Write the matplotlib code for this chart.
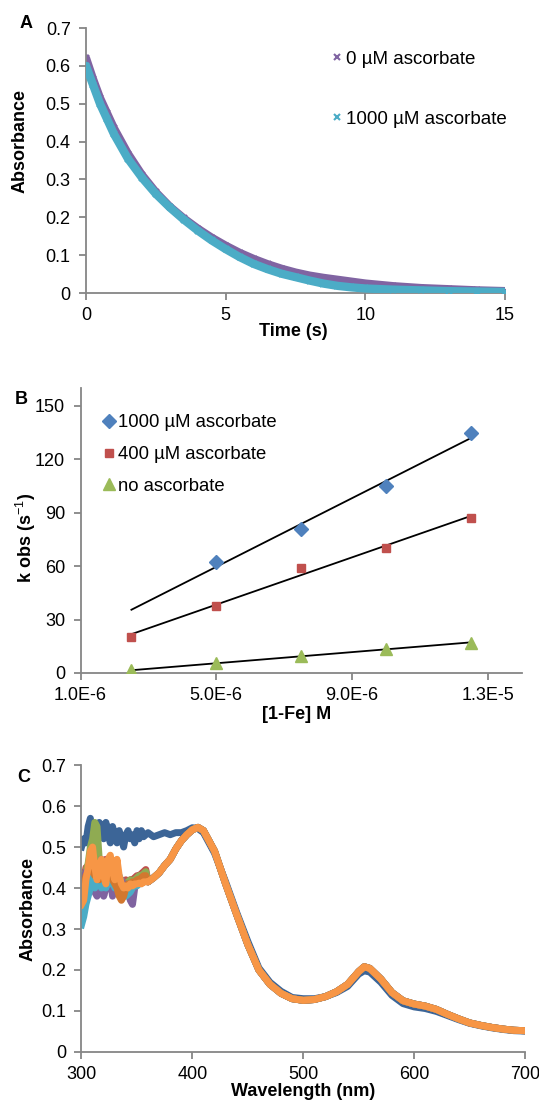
import numpy as np
import matplotlib
matplotlib.use("Agg")
import matplotlib.pyplot as plt

plt.rcParams['font.family'] = ['Liberation Sans', 'DejaVu Sans']
plt.rcParams['mathtext.fontset'] = 'custom'
plt.rcParams['mathtext.rm'] = 'Liberation Sans'
plt.rcParams['mathtext.bf'] = 'Liberation Sans:bold'

# ---- panel A: decay traces
time_s = [0, 0.25, 0.5, 0.75, 1, 1.5, 2, 2.5, 3, 3.5, 4, 4.5, 5, 5.5, 6, 6.5, 7,
          7.5, 8, 8.5, 9, 9.5, 10, 11, 12, 13, 14, 15]
abs_0uM = [0.62, 0.565, 0.515, 0.475, 0.435, 0.368, 0.312, 0.266, 0.228, 0.197,
           0.170, 0.146, 0.125, 0.106, 0.090, 0.076, 0.064, 0.054, 0.046, 0.040,
           0.035, 0.030, 0.025, 0.018, 0.013, 0.010, 0.007, 0.005]
abs_1000uM = [0.60, 0.55, 0.50, 0.46, 0.42, 0.355, 0.305, 0.262, 0.226, 0.194,
              0.165, 0.139, 0.116, 0.095, 0.077, 0.063, 0.051, 0.042, 0.033,
              0.025, 0.019, 0.015, 0.012, 0.009, 0.007, 0.005, 0.004, 0.003]
a_yticks = [0, 0.1, 0.2, 0.3, 0.4, 0.5, 0.6, 0.7]
a_yticklabels = ['0', '0.1', '0.2', '0.3', '0.4', '0.5', '0.6', '0.7']
a_xticks = [0, 5, 10, 15]

# ---- panel B: k obs vs [1-Fe]
conc = [2.5e-6, 5.0e-6, 7.5e-6, 1.0e-5, 1.25e-5]
k_1000 = [62.4, 80.7, 105.2, 134.5]          # measured from 5.0E-6 on
k_400 = [20.4, 37.8, 59.2, 70.2, 87.1]
k_none = [1.5, 5.4, 9.4, 13.5, 17.0]
b_xticks = [1.0e-6, 5.0e-6, 9.0e-6, 1.3e-5]
b_xticklabels = ['1.0E-6', '5.0E-6', '9.0E-6', '1.3E-5']
b_yticks = [0, 30, 60, 90, 120, 150]

# ---- panel C: spectra
wl_low = [300, 302, 304, 306, 308, 310, 312, 314, 316, 318, 320, 322, 324, 326,
          328, 330, 332, 334, 336, 338, 340, 342, 344, 346, 348, 350, 352, 354,
          356, 358]
wl_tail = [360, 365, 370, 375, 380, 385, 390, 395, 400, 405, 410, 415, 420, 425,
           430, 440, 450, 460, 470, 480, 490, 500, 510, 520, 530, 540, 550, 555,
           560, 570, 580, 590, 600, 610, 620, 630, 640, 650, 660, 670, 680, 690, 700]
abs_tail = [0.415, 0.425, 0.437, 0.455, 0.47, 0.495, 0.515, 0.53, 0.542, 0.548,
            0.54, 0.515, 0.49, 0.45, 0.41, 0.335, 0.262, 0.20, 0.165, 0.143,
            0.13, 0.126, 0.128, 0.135, 0.147, 0.165, 0.196, 0.208, 0.204, 0.178,
            0.145, 0.125, 0.117, 0.112, 0.104, 0.092, 0.081, 0.071, 0.065, 0.06,
            0.056, 0.053, 0.052]
blue_low = [0.50, 0.52, 0.51, 0.55, 0.57, 0.53, 0.51, 0.52, 0.56, 0.55, 0.52,
            0.56, 0.53, 0.51, 0.55, 0.53, 0.51, 0.54, 0.52, 0.50, 0.53, 0.54,
            0.52, 0.53, 0.51, 0.54, 0.52, 0.54, 0.525, 0.53]
blue_tail = [0.535, 0.525, 0.53, 0.535, 0.53, 0.535, 0.535, 0.54, 0.547, 0.545,
             0.535, 0.51, 0.485, 0.45, 0.415, 0.34, 0.27, 0.205, 0.17, 0.148,
             0.133, 0.13, 0.13, 0.135, 0.145, 0.16, 0.19, 0.198, 0.195, 0.17,
             0.138, 0.118, 0.11, 0.106, 0.099, 0.089, 0.079, 0.07, 0.064, 0.059,
             0.055, 0.052, 0.051]
red_low = [0.40, 0.42, 0.45, 0.44, 0.47, 0.45, 0.43, 0.46, 0.44, 0.46, 0.45,
           0.47, 0.44, 0.46, 0.45, 0.44, 0.43, 0.41, 0.42, 0.41, 0.42, 0.41,
           0.42, 0.42, 0.425, 0.43, 0.43, 0.435, 0.44, 0.445]
green_low = [0.38, 0.43, 0.44, 0.46, 0.50, 0.52, 0.56, 0.55, 0.47, 0.42, 0.44,
             0.43, 0.45, 0.42, 0.43, 0.44, 0.42, 0.41, 0.42, 0.40, 0.41, 0.415,
             0.42, 0.41, 0.42, 0.425, 0.43, 0.43, 0.435, 0.44]
purple_low = [0.40, 0.42, 0.44, 0.40, 0.45, 0.48, 0.39, 0.38, 0.44, 0.47, 0.38,
              0.40, 0.45, 0.42, 0.38, 0.43, 0.46, 0.40, 0.42, 0.39, 0.41, 0.40,
              0.37, 0.36, 0.40, 0.41, 0.415, 0.42, 0.42, 0.425]
cyan_low = [0.31, 0.33, 0.36, 0.38, 0.40, 0.43, 0.40, 0.44, 0.42, 0.40, 0.42,
            0.40, 0.43, 0.41, 0.42, 0.40, 0.42, 0.43, 0.40, 0.39, 0.38, 0.385,
            0.39, 0.40, 0.41, 0.405, 0.41, 0.415, 0.42, 0.42]
brown_low = [0.37, 0.40, 0.43, 0.44, 0.46, 0.44, 0.43, 0.45, 0.42, 0.44, 0.43,
             0.42, 0.44, 0.45, 0.42, 0.41, 0.40, 0.38, 0.37, 0.38, 0.40, 0.41,
             0.41, 0.415, 0.41, 0.42, 0.42, 0.425, 0.43, 0.43]
orange_low = [0.36, 0.37, 0.42, 0.45, 0.49, 0.50, 0.45, 0.42, 0.45, 0.47, 0.43,
              0.41, 0.47, 0.48, 0.44, 0.42, 0.47, 0.43, 0.41, 0.40, 0.405, 0.40,
              0.41, 0.405, 0.41, 0.41, 0.412, 0.41, 0.415, 0.415]
c_xticks = [300, 400, 500, 600, 700]

GREY = '#868686'
FS = 13
LEG_FS = 13.5


def style_axes(ax):
    ax.spines['top'].set_visible(False)
    ax.spines['right'].set_visible(False)
    for side in ['left', 'bottom']:
        ax.spines[side].set_color(GREY)
        ax.spines[side].set_linewidth(1.3)
    ax.tick_params(direction='out', length=5, width=1.3, color=GREY,
                   labelsize=FS, labelcolor='black')
    ax.tick_params(axis='x', pad=5)
    ax.tick_params(axis='y', pad=6)


def put_labels(ax, xlabel, ylabel, xpos, ypos):
    ax.set_xlabel(xlabel, fontsize=FS, fontweight='bold')
    ax.set_ylabel(ylabel, fontsize=FS, fontweight='bold')
    ax.xaxis.set_label_coords(*xpos)
    ax.yaxis.set_label_coords(*ypos)
    ax.xaxis.label.set_va('center')
    ax.yaxis.label.set_va('center')


fig = plt.figure(figsize=(5.39, 11), dpi=100)

# ---------------- A
axA = fig.add_axes([0.1596, 0.7336, 0.7774, 0.2409])
axA.plot(time_s, abs_0uM, color='#8064A2', lw=6, solid_capstyle='round', zorder=2)
axA.plot(time_s, abs_0uM, 'x', color='#8064A2', ms=5, mew=1.5, ls='none',
         label='0 µM ascorbate', zorder=2)
axA.plot(time_s, abs_1000uM, color='#4BACC6', lw=6, solid_capstyle='round', zorder=3)
axA.plot(time_s, abs_1000uM, 'x', color='#4BACC6', ms=5, mew=1.5, ls='none',
         label='1000 µM ascorbate', zorder=3)
axA.set_xlim(0, 15)
axA.set_ylim(0, 0.7)
axA.set_xticks(a_xticks)
axA.set_yticks(a_yticks)
axA.set_yticklabels(a_yticklabels)
style_axes(axA)
put_labels(axA, 'Time (s)', 'Absorbance', (0.494, -0.147), (-0.158, 0.572))
axA.legend(loc='upper left', bbox_to_anchor=(0.614, 0.954),
           bbox_transform=fig.transFigure, frameon=False, fontsize=LEG_FS,
           handlelength=0.6, handletextpad=0.2, labelspacing=2.3,
           borderpad=0, borderaxespad=0, markerscale=0.8)

# ---------------- B
axB = fig.add_axes([0.1494, 0.3882, 0.8182, 0.2591])
fit_series = [(conc[1:], k_1000), (conc, k_400), (conc, k_none)]
for xs, ys in fit_series:
    slope, icpt = np.polyfit(xs, ys, 1)
    xl = np.array([conc[0], conc[-1]])
    axB.plot(xl, slope * xl + icpt, color='black', lw=1.3, zorder=2)
axB.plot(conc[1:], k_1000, 'D', color='#4F81BD', ms=7, ls='none',
         label='1000 µM ascorbate', zorder=3)
axB.plot(conc, k_400, 's', color='#C0504D', ms=6, ls='none',
         label='400 µM ascorbate', zorder=3)
axB.plot(conc, k_none, '^', color='#9BBB59', ms=8, ls='none',
         label='no ascorbate', zorder=3)
axB.set_xlim(1.0e-6, 1.4e-5)
axB.set_ylim(0, 160)
axB.set_xticks(b_xticks)
axB.set_xticklabels(b_xticklabels)
axB.set_yticks(b_yticks)
style_axes(axB)
put_labels(axB, '[1-Fe] M', r'k obs (s$^{-1}$)', (0.489, -0.147), (-0.124, 0.474))
axB.legend(loc='upper left', bbox_to_anchor=(0.189, 0.6234),
           bbox_transform=fig.transFigure, frameon=False, fontsize=13.3,
           handlelength=0.8, handletextpad=0.1, labelspacing=0.8,
           borderpad=0, borderaxespad=0)

# ---------------- C
axC = fig.add_axes([0.1512, 0.04364, 0.8228, 0.2609])
axC.plot(wl_low + wl_tail, blue_low + blue_tail, color='#3C6597', lw=5)
spectra = [(red_low, '#C0504D'), (green_low, '#8FAB52'), (purple_low, '#7F63A0'),
           (cyan_low, '#4BACC6'), (brown_low, '#D2782F'), (orange_low, '#F79646')]
for low, col in spectra:
    axC.plot(wl_low + wl_tail, low + abs_tail, color=col, lw=5)
axC.set_xlim(300, 700)
axC.set_ylim(0, 0.7)
axC.set_xticks(c_xticks)
axC.set_yticks(a_yticks)
axC.set_yticklabels(a_yticklabels)
style_axes(axC)
put_labels(axC, 'Wavelength (nm)', 'Absorbance', (0.5, -0.136), (-0.121, 0.498))

# panel letters
fig.text(26 / 539, 1 - 24 / 1100, 'A', fontsize=FS, fontweight='bold',
         ha='center', va='center')
fig.text(21 / 539, 1 - 400 / 1100, 'B', fontsize=FS, fontweight='bold',
         ha='center', va='center')
fig.text(24 / 539, 1 - 777 / 1100, 'C', fontsize=FS, fontweight='bold',
         ha='center', va='center')

fig.savefig('out.png', dpi=100)
